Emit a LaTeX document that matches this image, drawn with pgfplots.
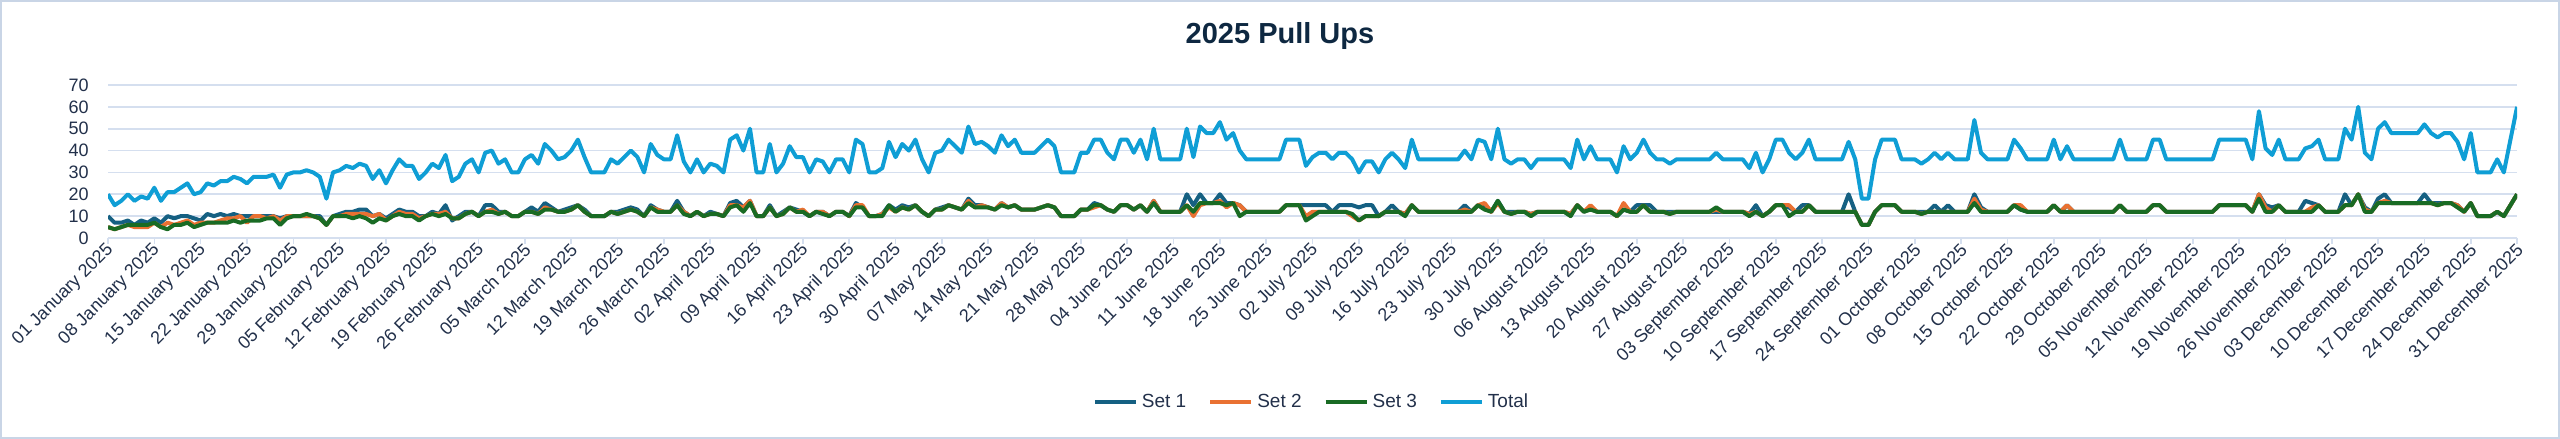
\documentclass[border=0pt]{standalone}
\usepackage{fontspec}
\setmainfont{Liberation Sans}
\usepackage{pgfplots}
\usepackage{pgfplotstable}
\pgfplotsset{compat=1.18}

\definecolor{setone}{HTML}{156082}
\definecolor{settwo}{HTML}{E97132}
\definecolor{setthree}{HTML}{196B24}
\definecolor{totalc}{HTML}{0F9ED5}
\definecolor{gridc}{HTML}{D5DFEF}
\definecolor{tickc}{HTML}{22304A}
\definecolor{titlec}{HTML}{0E2841}
\definecolor{framec}{HTML}{C9D5E6}

% day  set1  set2  set3  total
\pgfplotstableread{
d s1 s2 s3 tot
0 10 5 5 20
1 7 4 4 15
2 7 5 5 17
3 8 6 6 20
4 6 5 6 17
5 8 5 6 19
6 7 5 6 18
7 9 7 7 23
8 7 5 5 17
9 10 7 4 21
10 9 6 6 21
11 10 7 6 23
12 10 8 7 25
13 9 6 5 20
14 8 7 6 21
15 11 7 7 25
16 10 7 7 24
17 11 8 7 26
18 10 9 7 26
19 11 9 8 28
20 10 10 7 27
21 10 7 8 25
22 10 10 8 28
23 10 10 8 28
24 10 9 9 28
25 10 10 9 29
26 9 8 6 23
27 10 10 9 29
28 10 10 10 30
29 10 10 10 30
30 10 10 11 31
31 10 10 10 30
32 10 9 9 28
33 6 6 6 18
34 10 10 10 30
35 11 10 10 31
36 12 11 10 33
37 12 11 9 32
38 13 11 10 34
39 13 11 9 33
40 10 10 7 27
41 11 11 9 31
42 9 8 8 25
43 11 10 10 31
44 13 12 11 36
45 12 11 10 33
46 12 11 10 33
47 10 9 8 27
48 10 10 10 30
49 12 11 11 34
50 11 11 10 32
51 15 12 11 38
52 8 9 9 26
53 10 9 9 28
54 12 11 11 34
55 12 12 12 36
56 10 10 10 30
57 15 12 12 39
58 15 13 12 40
59 12 11 11 34
60 12 12 12 36
61 10 10 10 30
62 10 10 10 30
63 12 12 12 36
64 14 12 12 38
65 12 11 11 34
66 16 14 13 43
67 14 13 13 40
68 12 12 12 36
69 13 12 12 37
70 14 13 13 40
71 15 15 15 45
72 13 12 12 37
73 10 10 10 30
74 10 10 10 30
75 10 10 10 30
76 12 12 12 36
77 12 11 11 34
78 13 12 12 37
79 14 13 13 40
80 13 12 12 37
81 10 10 10 30
82 15 14 14 43
83 13 13 12 38
84 12 12 12 36
85 12 12 12 36
86 17 15 15 47
87 12 12 11 35
88 10 10 10 30
89 12 12 12 36
90 10 10 10 30
91 12 11 11 34
92 11 11 11 33
93 10 10 10 30
94 16 15 14 45
95 17 15 15 47
96 14 14 12 40
97 17 17 16 50
98 10 10 10 30
99 10 10 10 30
100 15 14 14 43
101 10 10 10 30
102 12 11 11 34
103 14 14 14 42
104 13 12 12 37
105 12 13 12 37
106 10 10 10 30
107 12 12 12 36
108 12 12 11 35
109 10 10 10 30
110 12 12 12 36
111 12 12 12 36
112 10 10 10 30
113 16 15 14 45
114 14 15 14 43
115 10 10 10 30
116 10 10 10 30
117 11 11 10 32
118 15 14 15 44
119 13 12 12 37
120 15 14 14 43
121 14 13 13 40
122 15 15 15 45
123 12 12 12 36
124 10 10 10 30
125 13 13 13 39
126 14 13 13 40
127 15 15 15 45
128 14 14 14 42
129 13 13 13 39
130 18 17 16 51
131 15 14 14 43
132 15 15 14 44
133 14 14 14 42
134 13 13 13 39
135 16 16 15 47
136 14 14 14 42
137 15 15 15 45
138 13 13 13 39
139 13 13 13 39
140 13 13 13 39
141 14 14 14 42
142 15 15 15 45
143 14 14 14 42
144 10 10 10 30
145 10 10 10 30
146 10 10 10 30
147 13 13 13 39
148 13 13 13 39
149 16 14 15 45
150 15 15 15 45
151 13 13 13 39
152 12 12 12 36
153 15 15 15 45
154 15 15 15 45
155 13 13 13 39
156 15 15 15 45
157 12 12 12 36
158 17 17 16 50
159 12 12 12 36
160 12 12 12 36
161 12 12 12 36
162 12 12 12 36
163 20 15 15 50
164 15 10 12 37
165 20 15 16 51
166 16 16 16 48
167 16 16 16 48
168 20 17 16 53
169 16 14 15 45
170 16 16 16 48
171 15 15 10 40
172 12 12 12 36
173 12 12 12 36
174 12 12 12 36
175 12 12 12 36
176 12 12 12 36
177 12 12 12 36
178 15 15 15 45
179 15 15 15 45
180 15 15 15 45
181 15 10 8 33
182 15 12 10 37
183 15 12 12 39
184 15 12 12 39
185 12 12 12 36
186 15 12 12 39
187 15 12 12 39
188 15 10 11 36
189 14 8 8 30
190 15 10 10 35
191 15 10 10 35
192 10 10 10 30
193 12 12 12 36
194 15 12 12 39
195 12 12 12 36
196 11 11 10 32
197 15 15 15 45
198 12 12 12 36
199 12 12 12 36
200 12 12 12 36
201 12 12 12 36
202 12 12 12 36
203 12 12 12 36
204 12 12 12 36
205 15 13 12 40
206 12 12 12 36
207 15 15 15 45
208 15 16 13 44
209 12 12 12 36
210 17 16 17 50
211 12 12 12 36
212 12 11 11 34
213 12 12 12 36
214 12 12 12 36
215 11 11 10 32
216 12 12 12 36
217 12 12 12 36
218 12 12 12 36
219 12 12 12 36
220 12 12 12 36
221 11 11 10 32
222 15 15 15 45
223 12 12 12 36
224 14 15 13 42
225 12 12 12 36
226 12 12 12 36
227 12 12 12 36
228 10 10 10 30
229 13 16 13 42
230 12 12 12 36
231 15 12 12 39
232 15 15 15 45
233 15 12 12 39
234 12 12 12 36
235 12 12 12 36
236 12 11 11 34
237 12 12 12 36
238 12 12 12 36
239 12 12 12 36
240 12 12 12 36
241 12 12 12 36
242 12 12 12 36
243 12 13 14 39
244 12 12 12 36
245 12 12 12 36
246 12 12 12 36
247 12 12 12 36
248 11 11 10 32
249 15 12 12 39
250 10 10 10 30
251 12 12 12 36
252 15 15 15 45
253 15 15 15 45
254 14 15 10 39
255 12 12 12 36
256 15 12 12 39
257 15 15 15 45
258 12 12 12 36
259 12 12 12 36
260 12 12 12 36
261 12 12 12 36
262 12 12 12 36
263 20 12 12 44
264 12 12 12 36
265 6 6 6 18
266 6 6 6 18
267 12 12 12 36
268 15 15 15 45
269 15 15 15 45
270 15 15 15 45
271 12 12 12 36
272 12 12 12 36
273 12 12 12 36
274 12 11 11 34
275 12 12 12 36
276 15 12 12 39
277 12 12 12 36
278 15 12 12 39
279 12 12 12 36
280 12 12 12 36
281 12 12 12 36
282 20 18 16 54
283 14 13 12 39
284 12 12 12 36
285 12 12 12 36
286 12 12 12 36
287 12 12 12 36
288 15 15 15 45
289 13 15 13 41
290 12 12 12 36
291 12 12 12 36
292 12 12 12 36
293 12 12 12 36
294 15 15 15 45
295 12 12 12 36
296 15 15 12 42
297 12 12 12 36
298 12 12 12 36
299 12 12 12 36
300 12 12 12 36
301 12 12 12 36
302 12 12 12 36
303 12 12 12 36
304 15 15 15 45
305 12 12 12 36
306 12 12 12 36
307 12 12 12 36
308 12 12 12 36
309 15 15 15 45
310 15 15 15 45
311 12 12 12 36
312 12 12 12 36
313 12 12 12 36
314 12 12 12 36
315 12 12 12 36
316 12 12 12 36
317 12 12 12 36
318 12 12 12 36
319 15 15 15 45
320 15 15 15 45
321 15 15 15 45
322 15 15 15 45
323 15 15 15 45
324 12 12 12 36
325 20 20 18 58
326 15 14 12 41
327 14 12 12 38
328 15 15 15 45
329 12 12 12 36
330 12 12 12 36
331 12 12 12 36
332 17 12 12 41
333 16 14 12 42
334 15 15 15 45
335 12 12 12 36
336 12 12 12 36
337 12 12 12 36
338 20 15 15 50
339 15 15 15 45
340 20 20 20 60
341 14 13 12 39
342 12 12 12 36
343 18 16 16 50
344 20 17 16 53
345 16 16 16 48
346 16 16 16 48
347 16 16 16 48
348 16 16 16 48
349 16 16 16 48
350 20 16 16 52
351 16 16 16 48
352 16 15 15 46
353 16 16 16 48
354 16 16 16 48
355 15 15 14 44
356 12 12 12 36
357 16 16 16 48
358 10 10 10 30
359 10 10 10 30
360 10 10 10 30
361 12 12 12 36
362 10 10 10 30
363 15 15 15 45
364 20 20 20 60
}\pullups

\begin{document}
\begin{tikzpicture}
\useasboundingbox (0,0) rectangle (1280bp,219.5bp);
\draw[framec, line width=0.8bp] (0.4bp,0.4bp) rectangle (1279.6bp,219.1bp);
\node[font=\fontsize{14.5bp}{17bp}\selectfont\bfseries, text=titlec] at (640bp,201.5bp) {2025 Pull Ups};
\begin{axis}[
    at={(54bp,100.5bp)}, anchor=south west,
    scale only axis, width=1204.5bp, height=76.5bp,
    xmin=0, xmax=364, ymin=0, ymax=70,
    ytick={0,10,...,70},
    xtick={0,7,...,364},
    xticklabels={01 January 2025,08 January 2025,15 January 2025,22 January 2025,29 January 2025,
      05 February 2025,12 February 2025,19 February 2025,26 February 2025,
      05 March 2025,12 March 2025,19 March 2025,26 March 2025,
      02 April 2025,09 April 2025,16 April 2025,23 April 2025,30 April 2025,
      07 May 2025,14 May 2025,21 May 2025,28 May 2025,
      04 June 2025,11 June 2025,18 June 2025,25 June 2025,
      02 July 2025,09 July 2025,16 July 2025,23 July 2025,30 July 2025,
      06 August 2025,13 August 2025,20 August 2025,27 August 2025,
      03 September 2025,10 September 2025,17 September 2025,24 September 2025,
      01 October 2025,08 October 2025,15 October 2025,22 October 2025,29 October 2025,
      05 November 2025,12 November 2025,19 November 2025,26 November 2025,
      03 December 2025,10 December 2025,17 December 2025,24 December 2025,31 December 2025},
    axis lines*=left,
    separate axis lines,
    x axis line style={draw=gridc, line width=0.8bp},
    y axis line style={draw=none},
    ytick style={draw=none},
    xtick style={draw=gridc, line width=0.8bp},
    tick align=outside,
    major tick length=3bp,
    ymajorgrids,
    grid style={draw=gridc, line width=0.8bp},
    /pgf/number format/assume math mode=true,
    every tick label/.append style={font=\fontsize{9bp}{10bp}\selectfont, text=tickc},
    yticklabel style={inner sep=0pt, xshift=-6.5bp},
    xticklabel style={rotate=45, anchor=east, inner sep=0pt, yshift=-2bp},
    legend style={at={(0.5,-1.072)}, anchor=center, draw=none, fill=none,
      font=\fontsize{9.5bp}{11bp}\selectfont, text=tickc,
      /tikz/every even column/.append style={column sep=9bp}},
    legend columns=-1,
    legend image code/.code={\draw[#1] (0bp,0bp) -- (20.5bp,0bp);},
    every axis plot/.append style={line width=2bp, line join=round, no markers},
]
\addplot[setone] table[x=d, y=s1] {\pullups};
\addplot[settwo] table[x=d, y=s2] {\pullups};
\addplot[setthree] table[x=d, y=s3] {\pullups};
\addplot[totalc] table[x=d, y=tot] {\pullups};
\legend{Set 1, Set 2, Set 3, Total}
\end{axis}
\end{tikzpicture}
\end{document}
